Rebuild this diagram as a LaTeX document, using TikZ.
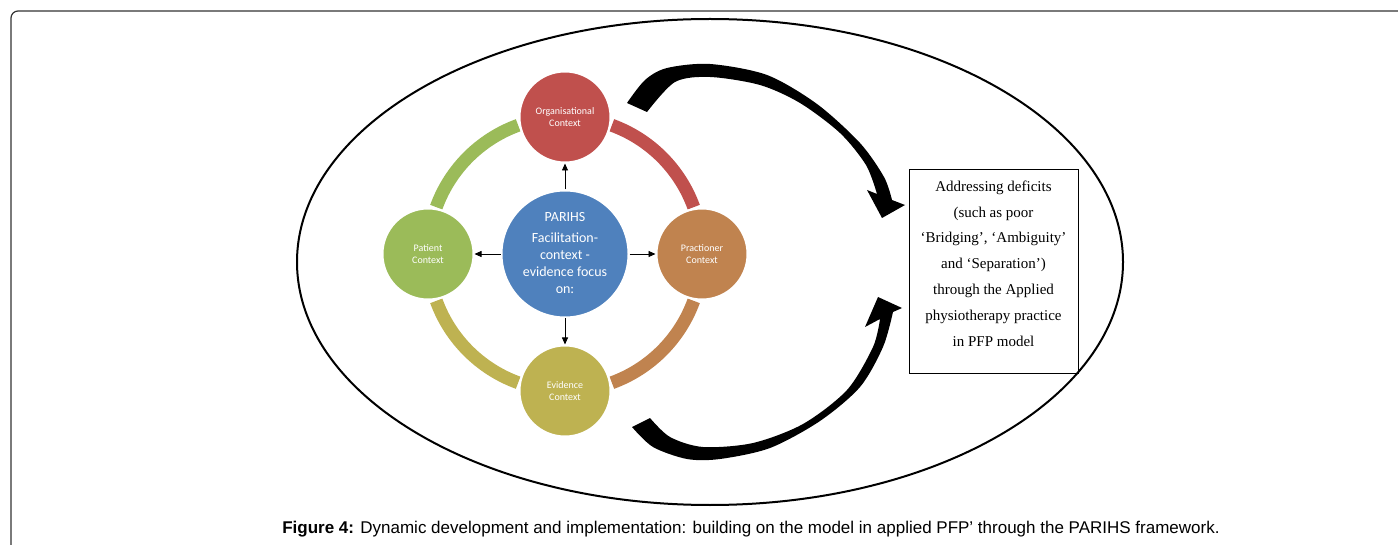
\documentclass[tikz,border=0pt]{standalone}
\usepackage{fontspec}
\setmainfont{Liberation Serif}
\newfontfamily\calibri{Carlito}
\newfontfamily\arial{Liberation Sans}
\usepackage{tikz}
\usetikzlibrary{arrows.meta,positioning}

\definecolor{orgred}{HTML}{C0504D}
\definecolor{patgreen}{HTML}{9BBB59}
\definecolor{parblue}{HTML}{4F81BD}
\definecolor{pracbrown}{HTML}{C0834F}
\definecolor{evidolive}{HTML}{BEB251}

\begin{document}
\begin{tikzpicture}[x=1pt, y=-1pt,
    ctx/.style={circle, fill=#1, draw=white, line width=2pt, minimum size=91pt, inner sep=0pt,
        text=white, align=center, font=\calibri\fontsize{10}{12}\selectfont},
    ring/.style={draw=#1, line width=13pt},
    link/.style={-{Triangle[length=7pt,width=6pt]}, line width=0.8pt}]

    \clip (0,0) rectangle (1398,545);
    \draw[line width=1.2pt, draw=black!80, rounded corners=7pt] (11,11) rectangle (1430,580);
    \draw[line width=2pt] (710,262) ellipse [x radius=413, y radius=243];

    % PARIHS cycle
    \begin{scope}[shift={(565,254)}, y=1pt]
        \draw[ring=orgred]    (20:137)  arc[start angle=20,  end angle=70,  radius=137];
        \draw[ring=patgreen]  (110:137) arc[start angle=110, end angle=160, radius=137];
        \draw[ring=evidolive] (200:137) arc[start angle=200, end angle=250, radius=137];
        \draw[ring=pracbrown] (290:137) arc[start angle=290, end angle=340, radius=137];

        \node[ctx=parblue, minimum size=127pt, font=\calibri\fontsize{14}{17}\selectfont]
            (ctr) at (0,0) {\raisebox{-4pt}{\begin{tabular}{@{}c@{}}PARIHS\\[4pt]Facilitation-\\context -\\evidence focus\\on:\end{tabular}}};
        \node[ctx=orgred]    (org)  at (90:137)  {Organisational\\Context};
        \node[ctx=patgreen]  (pat)  at (180:137) {Patient\\Context};
        \node[ctx=pracbrown] (prac) at (0:137)   {Practioner\\Context};
        \node[ctx=evidolive] (evid) at (270:137) {Evidence\\Context};
    \end{scope}

    \draw[link] (ctr) -- (org);
    \draw[link] (ctr) -- (pat);
    \draw[link] (ctr) -- (prac);
    \draw[link] (ctr) -- (evid);

    \node[draw, line width=0.8pt, minimum width=169pt, minimum height=204pt] (box) at (993.5,271) {};
    \node[align=center, font=\fontsize{15}{25.8}\selectfont, yshift=7.5pt] (boxtext) at (box.center)
        {Addressing deficits\\(such as poor\\‘Bridging’, ‘Ambiguity’\\and ‘Separation’)\\through the Applied\\physiotherapy practice\\in PFP model};

    % curved arrows into the box
    \fill plot[smooth] coordinates {(627,103) (645,80) (667,68) (710,64) (767,75) (817,104) (860,143) (884,177) (892,200)}
        -- (905,205) -- (882,218) -- (867,190)
        -- plot[smooth] coordinates {(877,194) (866,165) (840,133) (800,103) (760,85) (710,77) (675,82) (647,112)}
        -- cycle;
    \fill plot[smooth] coordinates {(632,427) (653,447) (687,459) (720,459) (770,448) (820,421) (860,387) (883,347) (893,312)}
        -- (902,308) -- (878,297) -- (865,327)
        -- plot[smooth] coordinates {(880,319) (873,347) (847,390) (803,424) (753,443) (703,447) (670,437) (650,418)}
        -- cycle;

    \node[font=\arial\fontsize{17}{19}\selectfont] (cap) at (751,529)
        {\textbf{Figure 4:} Dynamic development and implementation: building on the model in applied PFP’ through the PARIHS framework.};

\end{tikzpicture}
\end{document}
